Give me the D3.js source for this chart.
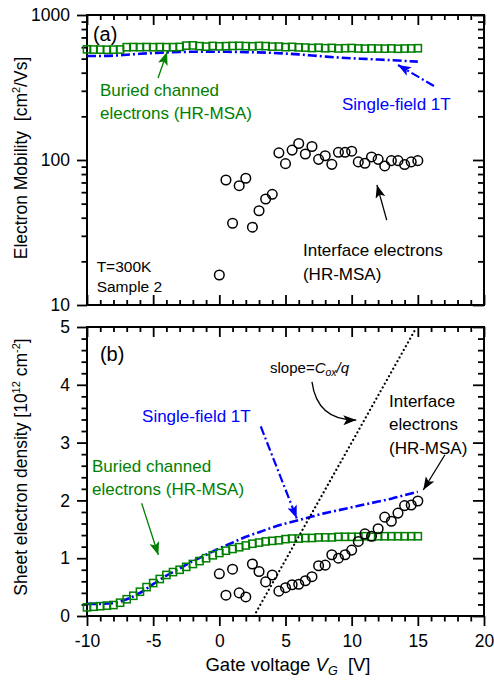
<!DOCTYPE html>
<html>
<head>
<meta charset="utf-8">
<script src="https://cdn.jsdelivr.net/npm/d3@7"></script>
<style>
    body { margin: 0; background: #fff; }
    svg text { font-family: Arial, "Liberation Sans", sans-serif; }
</style>
</head>
<body>
<div id="chart"></div>
<script>
// gate voltage of the HR-MSA buried channel points (squares)
var vgBuried = [-10, -9.5, -9, -8.5, -8, -7.5, -7, -6.5, -6, -5.5, -5, -4.5, -4, -3.5, -3, -2.5, -2, -1.5, -1, -0.5,
    0, 0.5, 1, 1.5, 2, 2.5, 3, 3.5, 4, 4.5, 5, 5.5, 6, 6.5, 7, 7.5, 8, 8.5, 9, 9.5,
    10, 10.5, 11, 11.5, 12, 12.5, 13, 13.5, 14, 14.5, 15];
var muBuried = [580, 578, 577, 576, 577, 578, 600, 601, 600, 601, 600, 601, 600, 600, 602, 615, 617, 610, 605, 612,
    608, 610, 612, 613, 610, 608, 612, 610, 605, 606, 600, 603, 598, 596, 592, 595, 590, 593, 588, 590,
    592, 588, 586, 588, 587, 586, 588, 585, 587, 588, 590];
var nBuried = [0.15, 0.16, 0.17, 0.18, 0.19, 0.23, 0.29, 0.35, 0.42, 0.50, 0.57, 0.64, 0.71, 0.76, 0.80, 0.85, 0.90, 0.95, 1.00, 1.05,
    1.09, 1.13, 1.16, 1.19, 1.22, 1.25, 1.27, 1.29, 1.30, 1.31, 1.33, 1.34, 1.34, 1.35, 1.35, 1.36, 1.36, 1.36, 1.37, 1.37,
    1.37, 1.37, 1.38, 1.37, 1.38, 1.38, 1.38, 1.38, 1.38, 1.38, 1.38];

// interface electrons (circles)
var vgInterface = [0, 0.5, 1, 1.5, 2, 2.5, 3, 3.5, 4, 4.5, 5, 5.5, 6, 6.5, 7, 7.5, 8, 8.5, 9, 9.5,
    10, 10.5, 11, 11.5, 12, 12.5, 13, 13.5, 14, 14.5, 15];
var muInterface = [16.1, 72.8, 36.6, 66.5, 74.8, 34.4, 44.7, 53.8, 58.0, 112, 94.4, 117, 130, 110, 124, 101, 107, 93.3, 113, 113,
    115, 97, 95, 105, 101, 91, 99, 99, 93, 97, 99];
var nInterface = [0.73, 0.36, 0.81, 0.40, 0.33, 0.90, 0.77, 0.59, 0.71, 0.43, 0.49, 0.54, 0.55, 0.61, 0.68, 0.87, 0.88, 1.06, 1.00, 1.06,
    1.14, 1.29, 1.42, 1.38, 1.51, 1.71, 1.64, 1.78, 1.91, 1.92, 1.99];

// single-field 1T analysis (dash-dot line)
var vgSingle = [-10, -9, -8, -7, -6, -5, -4, -3, -2, -1, 0, 1, 2, 3, 4, 5, 6, 7, 8, 9, 10, 11, 12, 13, 14, 15];
var muSingle = [521, 522, 525, 532, 540, 546, 552, 556, 558, 559, 558, 557, 555, 552, 548, 542, 535, 526, 517, 509, 503, 498, 493, 488, 482, 477];
var nSingle = [0.21, 0.21, 0.22, 0.29, 0.40, 0.55, 0.70, 0.82, 0.95, 1.06, 1.17, 1.27, 1.37, 1.45, 1.53, 1.60, 1.66, 1.72, 1.78, 1.83, 1.88, 1.93, 1.98, 2.03, 2.09, 2.15];

// slope = Cox/q line (start and end point)
var slopeVg = [2.62, 14.79];
var slopeN = [0, 4.95];

// axis ticks
var xTicks = d3.range(-10, 20.5, 1);
var xLabels = [-10, -5, 0, 5, 10, 15, 20];
var muTicks = [10, 20, 30, 40, 50, 60, 70, 80, 90, 100, 200, 300, 400, 500, 600, 700, 800, 900, 1000];
var muLabels = [10, 100, 1000];
var nTicks = d3.range(0, 5.01, 0.2);
var nLabels = [0, 1, 2, 3, 4, 5];

var green = "#008000", blue = "#0000ff";
var font = "Arial, 'Liberation Sans', sans-serif";

var svg = d3.select("#chart").append("svg")
    .attr("width", 494)
    .attr("height", 680);

// markers for arrow heads
var defs = svg.append("defs");
[["black", "#000"], ["green", green], ["blue", blue]].forEach(function(c) {
    defs.append("marker")
        .attr("id", "head-" + c[0])
        .attr("markerUnits", "userSpaceOnUse")
        .attr("markerWidth", 14).attr("markerHeight", 10)
        .attr("refX", 13).attr("refY", 5)
        .attr("orient", "auto")
        .append("path")
            .attr("d", "M0,0 L13,5 L0,10 L3,5 z")
            .attr("fill", c[1]);
});

// scales
var x = d3.scaleLinear().domain([-10, 20]).range([87, 484]);
var yTop = d3.scaleLog().domain([10, 1000]).range([305, 15]);
var yBot = d3.scaleLinear().domain([0, 5]).range([616, 327]);

// draws an axis and shortens the minor tick lines
function addAxis(axis, pos, values, isMajor, majorLen, minorLen, fmt, pad) {
    var g = svg.append("g").attr("transform", pos);
    g.call(axis.tickValues(values).tickSizeInner(majorLen).tickSizeOuter(0).tickPadding(pad).tickFormat(fmt));
    g.select(".domain").remove();
    g.attr("font-family", font).attr("font-size", 17.5);
    g.selectAll(".tick text").attr("fill", "#000");
    g.selectAll(".tick line")
        .attr("stroke-width", 1.8)
        .each(function(d) {
            if (!isMajor(d)) {
                var l = d3.select(this);
                ["x2", "y2"].forEach(function(a) {
                    var v = +l.attr(a);
                    if (v) l.attr(a, v * minorLen / majorLen);
                });
            }
        });
    return g;
}

var isMajorX = function(d) { return xLabels.indexOf(d) >= 0; };
var isMajorMu = function(d) { return muLabels.indexOf(d) >= 0; };
var isMajorN = function(d) { return Math.abs(d - Math.round(d)) < 1e-6; };
var noLabel = function() { return ""; };

// ---- panel (a) axes
addAxis(d3.axisLeft(yTop), "translate(87,0)", muTicks, isMajorMu, 10, 5.5,
    function(d) { return isMajorMu(d) ? d : ""; }, 7);
addAxis(d3.axisRight(yTop), "translate(484,0)", muTicks, isMajorMu, -11, -6, noLabel, 0);
addAxis(d3.axisTop(x), "translate(0,15)", xTicks, isMajorX, -10, -5, noLabel, 0);
addAxis(d3.axisBottom(x), "translate(0,305)", xTicks, isMajorX, -10, -5, noLabel, 0);

// ---- panel (b) axes
addAxis(d3.axisLeft(yBot), "translate(87,0)", nTicks, isMajorN, 10, 5.5,
    function(d) { return isMajorN(d) ? Math.round(d) : ""; }, 7);
addAxis(d3.axisRight(yBot), "translate(484,0)", nTicks, isMajorN, -11, -6, noLabel, 0);
addAxis(d3.axisTop(x), "translate(0,327)", xTicks, isMajorX, -10, -5, noLabel, 0);
addAxis(d3.axisBottom(x), "translate(0,616)", xTicks, isMajorX, 10, 5.5,
    function(d) { return isMajorX(d) ? String(d) : ""; }, 9);

// frames
[[yTop], [yBot]].forEach(function(s) {
    var r = s[0].range();
    svg.append("rect")
        .attr("x", x(-10)).attr("y", r[1])
        .attr("width", x(20) - x(-10)).attr("height", r[0] - r[1])
        .attr("fill", "none").attr("stroke", "#000").attr("stroke-width", 2);
});

// ---- data marks
function drawPanel(yScale, mu, nInt, single) {
    var g = svg.append("g");

    // single-field 1T
    var line = d3.line()
        .x(function(d, i) { return x(vgSingle[i]); })
        .y(function(d) { return yScale(d); })
        .curve(d3.curveMonotoneX);
    g.append("path")
        .datum(single)
        .attr("d", line)
        .attr("fill", "none").attr("stroke", blue)
        .attr("stroke-width", 2.6).attr("stroke-dasharray", "9,3,2,3");

    // buried channel squares
    g.selectAll("rect.buried")
        .data(mu)
        .enter().append("rect")
        .attr("class", "buried")
        .attr("x", function(d, i) { return x(vgBuried[i]) - 3.6; })
        .attr("y", function(d) { return yScale(d) - 3.6; })
        .attr("width", 7.2).attr("height", 7.2)
        .attr("fill", "none").attr("stroke", green).attr("stroke-width", 1.5);

    // interface circles
    g.selectAll("circle.interface")
        .data(nInt)
        .enter().append("circle")
        .attr("class", "interface")
        .attr("cx", function(d, i) { return x(vgInterface[i]); })
        .attr("cy", function(d) { return yScale(d); })
        .attr("r", 4.8)
        .attr("fill", "none").attr("stroke", "#000").attr("stroke-width", 1.5);
}

drawPanel(yTop, muBuried, muInterface, muSingle);
drawPanel(yBot, nBuried, nInterface, nSingle);

// slope line
svg.append("line")
    .attr("x1", x(slopeVg[0])).attr("y1", yBot(slopeN[0]))
    .attr("x2", x(slopeVg[1])).attr("y2", yBot(slopeN[1]))
    .attr("stroke", "#000").attr("stroke-width", 2.2)
    .attr("stroke-dasharray", "0.1,4.2").attr("stroke-linecap", "round");

// ---- text helpers
function addText(px, py, lines, color, size, step) {
    var t = svg.append("text")
        .attr("x", px).attr("y", py)
        .attr("fill", color).attr("font-size", size).attr("font-family", font);
    lines.forEach(function(s, i) {
        t.append("tspan").attr("x", px).attr("dy", i ? step : 0).text(s);
    });
    return t;
}

function addArrow(x1, y1, x2, y2, color, head, width, dash) {
    svg.append("line")
        .attr("x1", x1).attr("y1", y1).attr("x2", x2).attr("y2", y2)
        .attr("stroke", color).attr("stroke-width", width)
        .attr("stroke-dasharray", dash || null)
        .attr("marker-end", "url(#head-" + head + ")");
}

// ---- panel (a) annotations
addText(x(-9.55), yTop(667), ["(a)"], "#000", 20, 0);
addText(x(-9.02), yTop(276), ["Buried channed", "electrons (HR-MSA)"], green, 17, 23);
addArrow(x(-4.63), yTop(368), x(-3.95), yTop(556), green, "green", 1.3);
addText(x(9.27), yTop(221), ["Single-field 1T"], blue, 17, 0);
addArrow(x(16.22), yTop(324), x(13.5), yTop(452), blue, "blue", 2.2, "9,3,2,3");
addText(x(6.32), yTop(21.8), ["Interface electrons", "(HR-MSA)"], "#000", 17, 24);
addArrow(x(12.65), yTop(38.5), x(11.91), yTop(67.3), "#000", "black", 1.3);
addText(x(-9.27), yTop(17.0), ["T=300K", "Sample 2"], "#000", 15.5, 20.5);

// ---- panel (b) annotations
addText(x(-9.02), yBot(4.41), ["(b)"], "#000", 20, 0);
addText(x(-9.62), yBot(2.50), ["Buried channed", "electrons (HR-MSA)"], green, 17, 23);
addArrow(x(-5.87), yBot(1.95), x(-4.61), yBot(1.055), green, "green", 1.3);
addText(x(-5.84), yBot(3.36), ["Single-field 1T"], blue, 17, 0);
addArrow(x(3.13), yBot(3.28), x(5.85), yBot(1.69), blue, "blue", 2.2, "9,3,2,3");
addText(x(12.82), yBot(3.62), ["Interface", "electrons", "(HR-MSA)"], "#000", 17, 23.5);
addArrow(x(17.05), yBot(2.79), x(15.41), yBot(2.18), "#000", "black", 1.3);

// slope label with subscript
var slopeText = svg.append("text")
    .attr("x", x(3.83)).attr("y", yBot(4.20))
    .attr("font-size", 15).attr("font-family", font);
slopeText.append("tspan").text("slope=");
slopeText.append("tspan").attr("font-style", "italic").text("C");
slopeText.append("tspan").attr("font-style", "italic").attr("font-size", 10.5).attr("dy", 3).text("ox");
slopeText.append("tspan").attr("font-style", "italic").attr("dy", -3).text("/q");

// curved arrow to the slope line
var bend = d3.path();
bend.moveTo(x(7.0), yBot(4.05));
bend.quadraticCurveTo(x(7.4), yBot(3.38), x(10.35), yBot(3.39));
svg.append("path")
    .attr("d", bend.toString())
    .attr("fill", "none").attr("stroke", "#000").attr("stroke-width", 1.3)
    .attr("marker-end", "url(#head-black)");

// ---- axis titles
var yt1 = svg.append("text")
    .attr("transform", "translate(27,158) rotate(-90)")
    .attr("text-anchor", "middle").attr("font-size", 17.5).attr("font-family", font);
yt1.append("tspan").text("Electron Mobility\u00a0\u00a0[cm");
yt1.append("tspan").attr("font-size", 11).attr("dy", -7).text("2");
yt1.append("tspan").attr("dy", 7).text("/Vs]");

var yt2 = svg.append("text")
    .attr("transform", "translate(27,467) rotate(-90)")
    .attr("text-anchor", "middle").attr("font-size", 17.5).attr("font-family", font);
yt2.append("tspan").text("Sheet electron density [10");
yt2.append("tspan").attr("font-size", 11).attr("dy", -7).text("12");
yt2.append("tspan").attr("dy", 7).text("\u00a0cm");
yt2.append("tspan").attr("font-size", 11).attr("dy", -7).text("-2");
yt2.append("tspan").attr("dy", 7).text("]");

var xt = svg.append("text")
    .attr("x", 288).attr("y", 671)
    .attr("text-anchor", "middle").attr("font-size", 18.5).attr("font-family", font);
xt.append("tspan").text("Gate voltage ");
xt.append("tspan").attr("font-style", "italic").text("V");
xt.append("tspan").attr("font-style", "italic").attr("font-size", 12.5).attr("dy", 4).text("G");
xt.append("tspan").attr("dy", -4).text("\u00a0\u00a0[V]");
</script>
</body>
</html>
